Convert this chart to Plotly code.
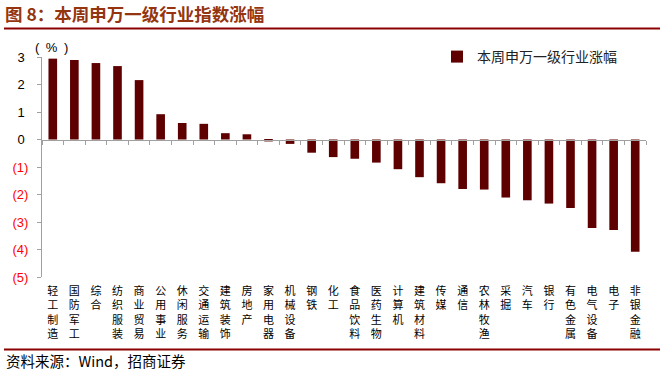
import plotly.graph_objects as go

categories = ["轻工制造", "国防军工", "综合", "纺织服装", "商业贸易", "公用事业", "休闲服务",
              "交通运输", "建筑装饰", "房地产", "家用电器", "机械设备", "钢铁", "化工",
              "食品饮料", "医药生物", "计算机", "建筑材料", "传媒", "通信", "农林牧渔",
              "采掘", "汽车", "银行", "有色金属", "电气设备", "电子", "非银金融"]
values = [2.94, 2.89, 2.78, 2.67, 2.16, 0.92, 0.60, 0.57, 0.23, 0.19, -0.07, -0.16,
          -0.48, -0.64, -0.70, -0.84, -1.08, -1.37, -1.59, -1.80, -1.82, -2.11, -2.21,
          -2.33, -2.49, -3.22, -3.29, -4.08]
y_tick_vals = [3, 2, 1, 0, -1, -2, -3, -4, -5]
y_tick_text = ["3", "2", "1", "0", "(1)", "(2)", "(3)", "(4)", "(5)"]
series_name = "本周申万一级行业涨幅"
title_text = "图 8：本周申万一级行业指数涨幅"
source_text = "资料来源：Wind，招商证券"
unit_text = "(\u2002%\u2002)"

W, H = 667, 372
L, R, T, B = 42, 21, 57, 95
PW, PH = W - L - R, H - T - B


def px_x(p):
    return (p - L) / PW


def px_y(p):
    return (H - B - p) / PH


CJK = "Noto Sans CJK SC"
SANS = "Liberation Sans, Arial"
BAR = "#5E0000"
AXIS = "#A0A0A0"
DARKRED = "#8B0000"

ticktext_x = ["<br>".join(list(c)) for c in categories]
ytext = [t if v >= 0 else '<span style="color:#FF0000">%s</span>' % t
         for t, v in zip([s + "\u00a0" if not s.startswith("(") else s for s in y_tick_text], y_tick_vals)]

fig = go.Figure()
fig.add_trace(go.Bar(x=categories, y=values, name=series_name, marker=dict(color=BAR, line=dict(width=0)),
                     width=0.4, showlegend=True))
fig.add_trace(go.Scatter(x=categories, y=values, xaxis="x2", mode="markers", marker=dict(opacity=0),
                         showlegend=False, hoverinfo="skip"))

zero_pos = (0 - (-5)) / (3 - (-5))

fig.update_layout(
    width=W, height=H,
    margin=dict(l=L, r=R, t=T, b=B, autoexpand=False),
    paper_bgcolor="white", plot_bgcolor="white",
    font=dict(family=CJK, size=12, color="black"),
    title=dict(text="<b>%s</b>" % title_text, xref="container", yref="container",
               x=5 / W, y=1 - 15 / H, xanchor="left", yanchor="middle",
               font=dict(family=CJK, size=17.5, color="#94350F")),
    xaxis=dict(type="category", categoryorder="array", categoryarray=categories,
               range=[-0.5, len(categories) - 0.5],
               tickmode="array", tickvals=categories, ticktext=ticktext_x,
               showline=False, ticks="", showgrid=False, zeroline=False,
               tickangle=0, tickfont=dict(family=CJK, size=11, color="black"),
               ticklabelstandoff=6),
    xaxis2=dict(type="category", categoryorder="array", categoryarray=categories,
                overlaying="x", anchor="free", position=zero_pos,
                range=[-0.5, len(categories) - 0.5],
                showline=True, linecolor=AXIS, linewidth=1,
                ticks="outside", tickson="boundaries", ticklen=4, tickcolor=AXIS, tickwidth=1,
                showticklabels=False, showgrid=False, zeroline=False),
    yaxis=dict(range=[-5, 3], tickmode="array", tickvals=y_tick_vals, ticktext=ytext,
               showline=True, linecolor=AXIS, linewidth=1,
               ticks="outside", ticklen=4, tickcolor=AXIS, tickwidth=1,
               showgrid=False, zeroline=False,
               tickfont=dict(family=SANS, size=13, color="black"),
               ticklabelstandoff=6),
    legend=dict(orientation="h", x=px_x(437), y=px_y(57), xanchor="left", yanchor="middle",
                font=dict(family=CJK, size=14, color="#222222"), bgcolor="rgba(0,0,0,0)",
                itemsizing="constant"),
    bargap=0.6,
    shapes=[
        dict(type="line", xref="paper", yref="paper", x0=px_x(4), x1=px_x(660),
             y0=px_y(28.5), y1=px_y(28.5), line=dict(color=DARKRED, width=2)),
        dict(type="line", xref="paper", yref="paper", x0=px_x(4), x1=px_x(660),
             y0=px_y(349.5), y1=px_y(349.5), line=dict(color=DARKRED, width=2)),
    ],
    annotations=[
        dict(text=unit_text, xref="paper", yref="paper", x=px_x(51), y=px_y(47),
             xanchor="center", yanchor="middle", showarrow=False,
             font=dict(family=SANS, size=13, color="black")),
        dict(text=source_text, xref="paper", yref="paper", x=px_x(4), y=px_y(360),
             xanchor="left", yanchor="middle", showarrow=False,
             font=dict(family=CJK, size=14.5, color="black")),
    ],
)

fig.write_html("out.html", config={"displayModeBar": False},
               post_script="document.body.style.margin='0';document.body.style.padding='0';")
